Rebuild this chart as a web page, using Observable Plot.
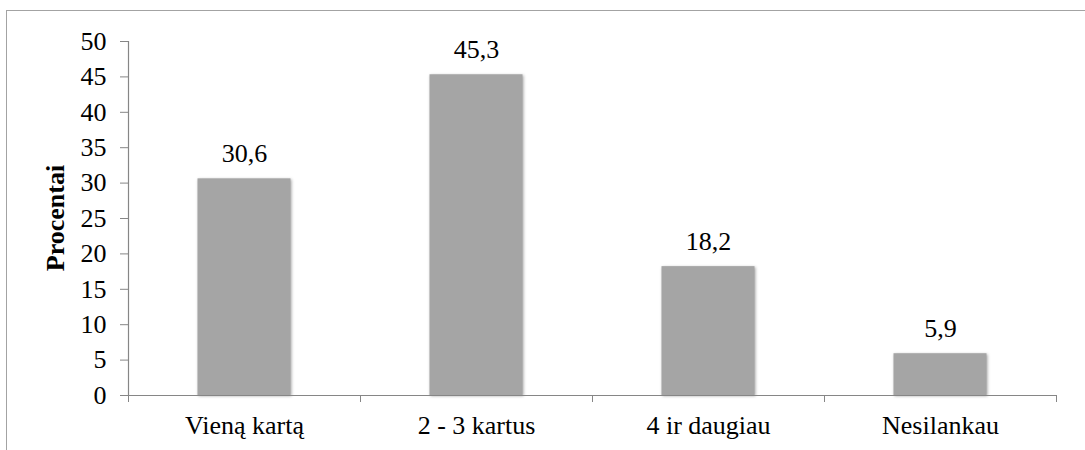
<!DOCTYPE html>
<html>
<head>
<meta charset="utf-8">
<script src="https://cdn.jsdelivr.net/npm/d3@7"></script>
<script src="https://cdn.jsdelivr.net/npm/@observablehq/plot@0.6"></script>
<style>
  html, body { margin: 0; padding: 0; background: #fff; overflow: hidden; }
  #wrap { position: relative; width: 1085px; height: 450px; }
  #border { position: absolute; left: 6px; top: 10px; width: 1200px; height: 600px;
            border-left: 1.5px solid #a3a3a3; border-top: 1.5px solid #a3a3a3; pointer-events: none; }
  #chart { position: absolute; left: 0; top: 0; }
  #chart svg text {
    font-family: "Liberation Serif", "Times New Roman", serif !important;
    font-variant: normal !important;
  }
  .bars rect { filter: drop-shadow(1.5px 1.5px 1.5px rgba(0,0,0,0.35)); }
</style>
</head>
<body>
<div id="wrap">
  <div id="border"></div>
  <div id="chart"></div>
</div>
<script>
const categories = ["Vieną kartą", "2 - 3 kartus", "4 ir daugiau", "Nesilankau"];
const values = [30.6, 45.3, 18.2, 5.9];
const valueLabels = ["30,6", "45,3", "18,2", "5,9"];
const yTicks = [0, 5, 10, 15, 20, 25, 30, 35, 40, 45, 50];
const yTitle = "Procentai";

const data = categories.map((c, i) => ({i, category: c, value: values[i], label: valueLabels[i]}));
const boundaries = d3.range(0, categories.length + 1);
const centers = categories.map((c, i) => i + 0.5);

const font = "Liberation Serif";
const axisGray = "#868686";

const chart = Plot.plot({
  width: 1085,
  height: 450,
  marginLeft: 128,
  marginRight: 29,
  marginTop: 41,
  marginBottom: 55,
  style: {fontFamily: font, fontSize: "26px", color: "#000", background: "transparent"},
  x: {domain: [0, categories.length], axis: null},
  y: {domain: [0, 50], axis: null},
  marks: [
    Plot.rectY(data, {x1: d => d.i, x2: d => d.i + 1, y1: 0, y2: "value",
      insetLeft: 69.5, insetRight: 69.5, fill: "#a5a5a5", className: "bars"}),
    Plot.ruleX([0], {y1: 0, y2: 50, stroke: axisGray, strokeWidth: 1.2}),
    Plot.ruleY([0], {stroke: axisGray, strokeWidth: 1.2}),
    Plot.axisY(yTicks, {anchor: "left", tickSize: 8, tickPadding: 14, stroke: axisGray, fill: "#000",
      fontSize: 26, fontFamily: font, label: null}),
    Plot.axisX(boundaries, {anchor: "bottom", tickSize: 7, stroke: axisGray, tickFormat: () => "", label: null}),
    Plot.axisX(centers, {anchor: "bottom", tickSize: 0, tickPadding: 20, fill: "#000",
      tickFormat: d => categories[Math.round(d - 0.5)], fontSize: 26, fontFamily: font, label: null}),
    Plot.text(data, {x: d => d.i + 0.5, y: "value", text: "label", lineAnchor: "bottom", dy: -17,
      fill: "#000", fontSize: 26, fontFamily: font})
  ]
});
document.getElementById("chart").appendChild(chart);

// Y axis title
const svg = d3.select(chart);
svg.append("text")
  .attr("transform", "translate(64,218) rotate(-90)")
  .attr("text-anchor", "middle")
  .attr("font-family", font)
  .attr("font-size", 26)
  .attr("font-weight", "bold")
  .attr("fill", "#000")
  .text(yTitle);
</script>
</body>
</html>
